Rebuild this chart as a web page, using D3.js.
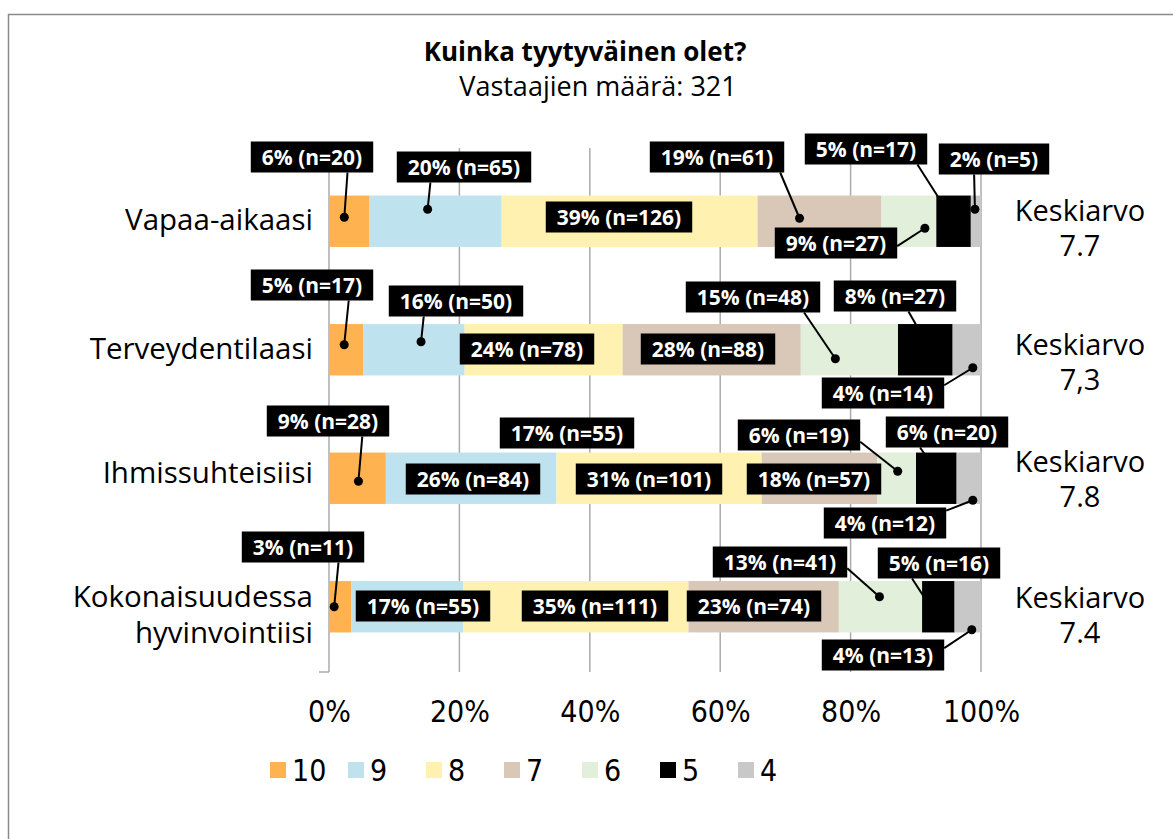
<!DOCTYPE html>
<html>
<head>
<meta charset="utf-8">
<script src="https://cdn.jsdelivr.net/npm/d3@7"></script>
<style>
  body { margin: 0; background: #fff; }
  svg { display: block; }
</style>
</head>
<body>
<svg id="chart" width="1173" height="839"></svg>
<script>
const categories = ['Vapaa-aikaasi', 'Terveydentilaasi', 'Ihmissuhteisiisi', 'Kokonaisuudessa hyvinvointiisi'];
const seriesNames = ['10', '9', '8', '7', '6', '5', '4'];

// respondents per answer (n)
const n10 = [20, 17, 28, 11];
const n9 = [65, 50, 84, 55];
const n8 = [126, 78, 101, 111];
const n7 = [61, 88, 57, 74];
const n6 = [27, 48, 19, 41];
const n5 = [17, 27, 20, 16];
const n4 = [5, 14, 12, 13];

// rounded shares shown in the labels
const p10 = [6, 5, 9, 3];
const p9 = [20, 16, 26, 17];
const p8 = [39, 24, 31, 35];
const p7 = [19, 28, 18, 23];
const p6 = [9, 15, 6, 13];
const p5 = [5, 8, 6, 5];
const p4 = [2, 4, 4, 4];

const averages = ['7.7', '7,3', '7.8', '7.4'];
const xTicks = [0, 0.2, 0.4, 0.6, 0.8, 1];

const counts = [n10, n9, n8, n7, n6, n5, n4];
const shares = [p10, p9, p8, p7, p6, p5, p4];
const colors = ['#ffb24f', '#bee3ef', '#fff2b1', '#d9c7b8', '#e2efda', '#000000', '#c8c8c8'];

// hand placed callouts: box centre, leader start (fraction of box), offset of the dot from segment centre
const labelLayout = [
  { r: 0, s: 0, cx: 312, cy: 157, fx: .79, fy: 1, ax: -5, ay: -4 },
  { r: 0, s: 1, cx: 464, cy: 167, fx: .25, fy: 1, ax: -8, ay: -12 },
  { r: 0, s: 2, cx: 619, cy: 217 },
  { r: 0, s: 3, cx: 717, cy: 157, fx: .97, fy: 1, ax: -20, ay: -3 },
  { r: 0, s: 4, cx: 836, cy: 243, fx: 1, fy: .6, ax: 16, ay: 7 },
  { r: 0, s: 5, cx: 866, cy: 149, fx: .92, fy: 1, ax: 0, ay: 0 },
  { r: 0, s: 6, cx: 994, cy: 159, fx: .32, fy: 1, ax: -1, ay: -12 },
  { r: 1, s: 0, cx: 312, cy: 285, fx: .8, fy: 1, ax: -2, ay: -5 },
  { r: 1, s: 1, cx: 456, cy: 301, fx: .26, fy: 1, ax: 7, ay: -8 },
  { r: 1, s: 2, cx: 527, cy: 349 },
  { r: 1, s: 3, cx: 708, cy: 349 },
  { r: 1, s: 4, cx: 753, cy: 297, fx: .88, fy: 1, ax: -14, ay: 9 },
  { r: 1, s: 5, cx: 895, cy: 296, fx: .61, fy: 1, ax: 5, ay: 0 },
  { r: 1, s: 6, cx: 883, cy: 393, fx: 1, fy: .25, ax: 6, ay: 18 },
  { r: 2, s: 0, cx: 328, cy: 421, fx: .78, fy: 1, ax: 1, ay: 3 },
  { r: 3, s: 1, cx: 567, cy: 433 }, // stray copy sitting above the third bar
  { r: 2, s: 1, cx: 473, cy: 479 },
  { r: 2, s: 2, cx: 649, cy: 479 },
  { r: 2, s: 3, cx: 814, cy: 479 },
  { r: 2, s: 4, cx: 799, cy: 435, fx: 1, fy: .72, ax: 1, ay: -7 },
  { r: 2, s: 5, cx: 947, cy: 432, fx: .28, fy: 1, ax: 5, ay: 0 },
  { r: 2, s: 6, cx: 885, cy: 523, fx: 1, fy: .1, ax: 4, ay: 22 },
  { r: 3, s: 0, cx: 303, cy: 547, fx: .79, fy: 1, ax: -6, ay: 0 },
  { r: 3, s: 1, cx: 423, cy: 606 },
  { r: 3, s: 2, cx: 595, cy: 606 },
  { r: 3, s: 3, cx: 754, cy: 606 },
  { r: 3, s: 4, cx: 780, cy: 562, fx: 1, fy: .7, ax: -1, ay: -10 },
  { r: 3, s: 5, cx: 939, cy: 563, fx: .28, fy: 1, ax: -8, ay: 0 },
  { r: 3, s: 6, cx: 883, cy: 655, fx: 1, fy: .28, ax: 4, ay: 23 }
];
const avgOffset = [-10, -5, -16, -9];
const catOffset = [-2, -1, -6, 8];

const svg = d3.select('#chart');
const font = "'Open Sans', 'Noto Sans', sans-serif";
const narrow = "'Liberation Sans Narrow', 'DejaVu Sans Condensed', 'Liberation Sans', sans-serif";

// outer frame
svg.append('rect')
  .attr('x', 8.5).attr('y', 14.5)
  .attr('width', 1170).attr('height', 840)
  .attr('fill', 'none')
  .attr('stroke', '#8a8a8a')
  .attr('stroke-width', 1.5);

svg.append('text')
  .attr('x', 585).attr('y', 61)
  .attr('text-anchor', 'middle')
  .style('font-family', font).style('font-weight', 700).style('font-size', '26px')
  .text('Kuinka tyytyväinen olet?');

svg.append('text')
  .attr('x', 598).attr('y', 96)
  .attr('text-anchor', 'middle')
  .style('font-family', font).style('font-size', '27px')
  .text('Vastaajien määrä: 321');

const x = d3.scaleLinear().domain([0, 1]).range([329, 981]);
const y = d3.scaleBand()
  .domain(categories)
  .range([157, 671])
  .paddingInner(0.6)
  .paddingOuter(0.3);

const rows = categories.map((c, i) => {
  const row = { cat: c };
  seriesNames.forEach((k, j) => { row[k] = counts[j][i]; });
  return row;
});
const stacked = d3.stack().keys(seriesNames).offset(d3.stackOffsetExpand)(rows);

// gridlines
svg.append('g')
  .selectAll('line')
  .data(xTicks)
  .enter().append('line')
  .attr('x1', d => x(d)).attr('x2', d => x(d))
  .attr('y1', 148).attr('y2', 672)
  .attr('stroke', '#ababab')
  .attr('stroke-width', 1.5);

svg.append('line')
  .attr('x1', 319).attr('x2', x(0))
  .attr('y1', 672).attr('y2', 672)
  .attr('stroke', '#ababab')
  .attr('stroke-width', 1.5);

const xAxis = svg.append('g')
  .attr('transform', 'translate(0,672)')
  .call(d3.axisBottom(x).tickValues(xTicks).tickFormat(d3.format('.0%')).tickSize(0).tickPadding(29));
xAxis.select('.domain').remove();
xAxis.selectAll('text')
  .style('font-family', narrow).style('font-size', '30px').attr('fill', '#000');

// bars
svg.append('g')
  .selectAll('g')
  .data(stacked)
  .enter().append('g')
  .attr('fill', (d, i) => colors[i])
  .selectAll('rect')
  .data(d => d)
  .enter().append('rect')
  .attr('x', d => x(d[0]))
  .attr('y', d => y(d.data.cat))
  .attr('width', d => x(d[1]) - x(d[0]))
  .attr('height', y.bandwidth());

// category labels
categories.forEach((c, ci) => {
  const words = c.indexOf('Kokonaisuudessa') === 0 ? c.split(' ') : [c];
  const t = svg.append('text')
    .attr('x', 313)
    .attr('y', y(c) + y.bandwidth() / 2 + catOffset[ci])
    .attr('text-anchor', 'end')
    .style('font-family', font).style('font-size', '29.5px');
  words.forEach((w, i) => {
    t.append('tspan')
      .attr('x', 313)
      .attr('dy', i === 0 ? (words.length > 1 ? '-0.25em' : '0.35em') : '1.2em')
      .text(w);
  });
});

// averages on the right
categories.forEach((c, i) => {
  const cy = y(c) + y.bandwidth() / 2 + avgOffset[i];
  svg.append('text')
    .attr('x', 1080).attr('y', cy + 10)
    .attr('text-anchor', 'middle')
    .style('font-family', font).style('font-size', '29px')
    .text('Keskiarvo');
  svg.append('text')
    .attr('x', 1080).attr('y', cy + 45)
    .attr('text-anchor', 'middle')
    .style('font-family', font).style('font-size', '29px')
    .text(averages[i]);
});

// data labels with leader lines
const lineLayer = svg.append('g');
const boxLayer = svg.append('g');
const boxH = 31;

labelLayout.forEach(l => {
  const seg = stacked[l.s][l.r];
  const label = `${shares[l.s][l.r]}% (n=${counts[l.s][l.r]})`;
  const g = boxLayer.append('g');
  const rect = g.append('rect').attr('fill', '#000');
  const txt = g.append('text')
    .attr('x', l.cx).attr('y', l.cy)
    .attr('text-anchor', 'middle')
    .attr('dy', '0.36em')
    .attr('fill', '#fff')
    .style('font-family', font).style('font-weight', 700).style('font-size', '21px')
    .text(label);
  const w = txt.node().getComputedTextLength() + 22;
  const x0 = l.cx - w / 2;
  const y0 = l.cy - boxH / 2;
  rect.attr('x', x0).attr('y', y0).attr('width', w).attr('height', boxH);

  if (l.fx !== undefined) {
    const px = x((seg[0] + seg[1]) / 2) + l.ax;
    const py = y(categories[l.r]) + y.bandwidth() / 2 + l.ay;
    lineLayer.append('line')
      .attr('x1', x0 + l.fx * w).attr('y1', y0 + l.fy * boxH)
      .attr('x2', px).attr('y2', py)
      .attr('stroke', '#000').attr('stroke-width', 2);
    lineLayer.append('circle')
      .attr('cx', px).attr('cy', py).attr('r', 4.5)
      .attr('fill', '#000');
  }
});

// legend
const legendX = d3.scaleBand().domain(seriesNames).range([270, 270 + 78 * 7]);
const legend = svg.append('g')
  .selectAll('g')
  .data(seriesNames)
  .enter().append('g')
  .attr('transform', d => `translate(${legendX(d)},770)`);
legend.append('rect')
  .attr('x', 0).attr('y', -8)
  .attr('width', 16).attr('height', 16)
  .attr('fill', (d, i) => colors[i]);
legend.append('text')
  .attr('x', 22).attr('dy', '0.36em')
  .style('font-family', narrow).style('font-size', '30px')
  .text(d => d);
</script>
</body>
</html>
